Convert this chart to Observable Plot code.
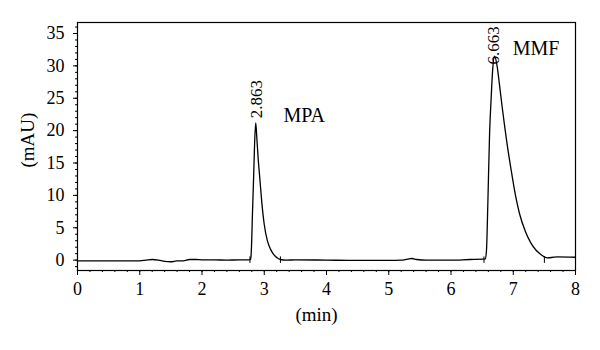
<!DOCTYPE html>
<html>
<head>
<meta charset="utf-8">
<script src="https://cdn.jsdelivr.net/npm/d3@7"></script>
<script src="https://cdn.jsdelivr.net/npm/@observablehq/plot@0.6"></script>
<style>
  html, body { margin: 0; padding: 0; background: white; }
  svg text { font-family: "Liberation Serif", serif !important; }
</style>
</head>
<body>
<div id="chart"></div>
<script>
// Chromatogram trace (time in min, signal in mAU)
const time = [
  0, 0.5, 1.0, 1.1, 1.2, 1.3, 1.4, 1.5, 1.6, 1.7, 1.8, 1.9, 2.0, 2.2, 2.4, 2.6, 2.76,
  2.78, 2.79, 2.80, 2.81, 2.83, 2.845, 2.863, 2.88, 2.90, 2.93, 2.96, 3.00, 3.05, 3.10, 3.15, 3.20, 3.26,
  3.35, 3.5, 4.0, 4.5, 5.0, 5.2, 5.3, 5.37, 5.45, 5.6, 6.0, 6.3, 6.52,
  6.55, 6.57, 6.59, 6.62, 6.645, 6.67, 6.70, 6.74, 6.78, 6.82, 6.86, 6.90, 6.96, 7.04, 7.10, 7.20, 7.28, 7.36, 7.44, 7.50,
  7.55, 7.65, 7.70, 8.0
];
const signal = [
  -0.1, -0.1, -0.1, 0.0, 0.1, 0.0, -0.2, -0.25, -0.1, -0.1, 0.1, 0.1, 0.05, 0.05, 0.0, 0.05, 0.05,
  0.1, 1.0, 3.5, 7, 13, 18, 21.2, 19, 16, 12.5, 9, 5.5, 3.0, 1.7, 0.9, 0.4, 0.1,
  0.0, 0.05, 0.0, -0.05, -0.05, 0.0, 0.15, 0.25, 0.1, 0.0, 0.0, 0.1, 0.15,
  0.2, 1.5, 8, 19.6, 25, 29.5, 31.5, 30, 27, 23.8, 20.8, 18, 14.3, 9.8, 7.2, 4.3, 2.7, 1.6, 0.9, 0.5,
  0.35, 0.45, 0.5, 0.45
];

// Integration markers (peak start / end)
const markerTimes = [2.77, 3.26, 6.53, 7.50];

// Retention-time labels
const rtValues = [2.863, 6.663];
const rtLabelY = [21.9, 30.2];

// Compound names
const compoundNames = ["MPA", "MMF"];
const compoundTime = [3.31, 6.99];
const compoundY = [22.3, 32.6];

// Axis ticks
const xTicks = [0, 1, 2, 3, 4, 5, 6, 7, 8];
const xMinor = d3.range(0, 41).map(i => i / 5);
const yTicks = [0, 5, 10, 15, 20, 25, 30, 35];
const yMinor = d3.range(-1, 37);

const trace = time.map((t, i) => ({t, v: signal[i]}));
const markers = markerTimes.map(t => ({t}));
const rtLabels = rtValues.map((t, i) => ({t, y: rtLabelY[i], label: t.toFixed(3)}));
const names = compoundNames.map((n, i) => ({n, t: compoundTime[i], y: compoundY[i]}));

const serif = "Liberation Serif";

const chart = Plot.plot({
  width: 600,
  height: 350,
  marginLeft: 77,
  marginRight: 25,
  marginTop: 22,
  marginBottom: 80,
  style: {fontFamily: serif, fontSize: "18px", background: "white", color: "black"},
  x: {domain: [0, 8]},
  y: {domain: [-1.6, 36.7]},
  marks: [
    Plot.frame({stroke: "black", strokeWidth: 1.2}),
    Plot.axisX({ticks: xMinor, tickSize: 2, tickFormat: () => "", label: null}),
    Plot.axisX({ticks: xTicks, tickSize: 5, tickPadding: 7, label: null, fontFamily: serif, fontSize: 18}),
    Plot.axisY({ticks: yMinor, tickSize: 2, tickFormat: () => "", label: null}),
    Plot.axisY({ticks: yTicks, tickSize: 4, tickPadding: 9, label: null, fontFamily: serif, fontSize: 18}),
    Plot.ruleX(markers, {x: "t", y1: -0.5, y2: 0.5, stroke: "black", strokeWidth: 1}),
    Plot.line(trace, {x: "t", y: "v", stroke: "black", strokeWidth: 1.3, curve: "monotone-x"}),
    Plot.text(rtLabels, {x: "t", y: "y", text: "label", rotate: -90, textAnchor: "start", dx: 1, fontSize: 17, fontFamily: serif}),
    Plot.text(names, {x: "t", y: "y", text: "n", textAnchor: "start", fontSize: 20, fontFamily: serif}),
    Plot.text(["(min)"], {frameAnchor: "bottom", dx: -10, dy: 50, fontSize: 19, fontFamily: serif}),
    Plot.text(["(mAU)"], {frameAnchor: "left", dx: -50, dy: 21, rotate: -90, fontSize: 19, fontFamily: serif})
  ]
});
document.getElementById("chart").appendChild(chart);
</script>
</body>
</html>
